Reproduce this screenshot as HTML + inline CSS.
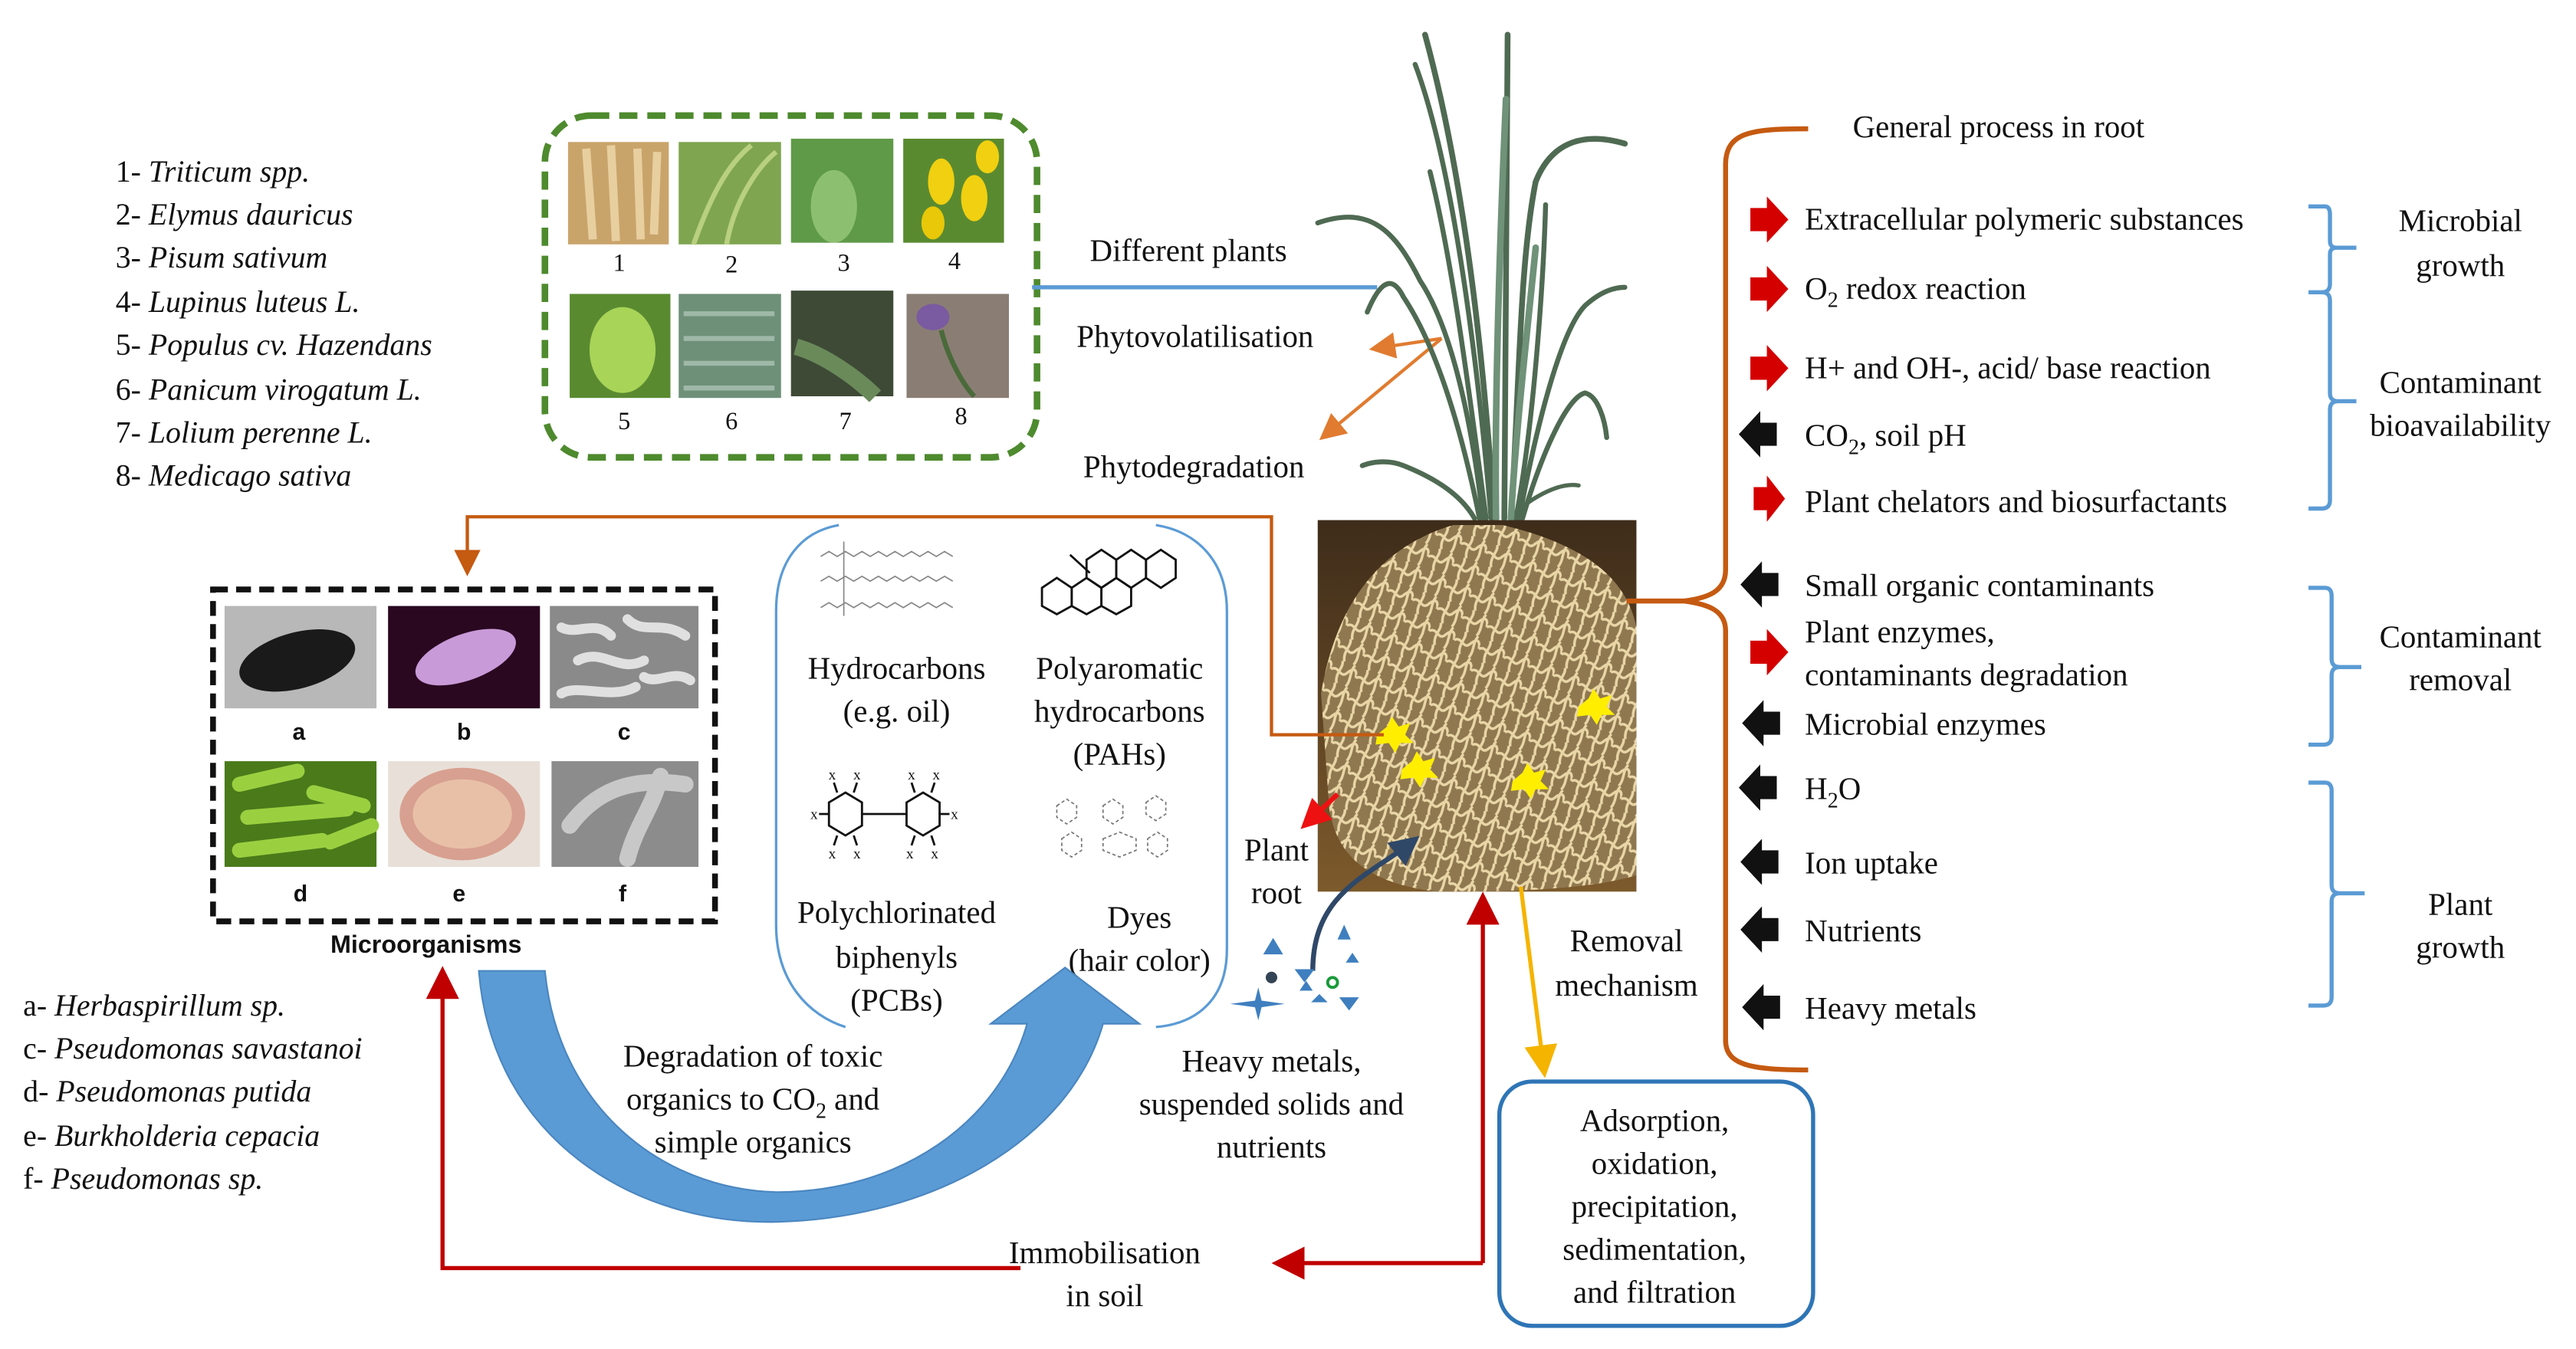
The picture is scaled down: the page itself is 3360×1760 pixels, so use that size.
<!DOCTYPE html>
<html><head><meta charset="utf-8"><style>
html,body{margin:0;padding:0;background:#fff;}
svg{display:block;}
svg text{font-family:"Liberation Serif","Tinos","Nimbus Roman","Nimbus Roman No9 L","FreeSerif","Times New Roman","DejaVu Serif",serif !important;fill:#111;}
svg text.sans{font-family:"Liberation Sans","DejaVu Sans",sans-serif !important;}
.it{font-style:italic;}
</style></head><body>
<svg width="3360" height="1760" viewBox="0 0 1560 817" preserveAspectRatio="none" xmlns="http://www.w3.org/2000/svg" font-family="Liberation Serif, serif">
<defs>
<pattern id="roots" width="16" height="14" patternUnits="userSpaceOnUse" patternTransform="rotate(20)">
<path d="M0,7 C4,3 7,11 10,6 S15,2 16,7 M5,0 C7,4 3,8 6,14 M13,0 C11,5 14,9 12,14" stroke="#e9d6a6" stroke-width="1.6" fill="none"/>
</pattern>
<linearGradient id="soil" x1="0" y1="0" x2="0" y2="1"><stop offset="0" stop-color="#3e2c1a"/><stop offset="1" stop-color="#7d5a2c"/></linearGradient>
<marker id="ao" markerWidth="8" markerHeight="8" refX="6" refY="4" orient="auto"><path d="M0,0 L8,4 L0,8 Z" fill="#e07b30"/></marker>
<marker id="ar" markerWidth="8" markerHeight="8" refX="6" refY="4" orient="auto"><path d="M0,0 L8,4 L0,8 Z" fill="#c00000"/></marker>
<marker id="ab" markerWidth="8" markerHeight="8" refX="6" refY="4" orient="auto"><path d="M0,0 L8,4 L0,8 Z" fill="#c55a11"/></marker>
<marker id="ay" markerWidth="8" markerHeight="8" refX="6" refY="4" orient="auto"><path d="M0,0 L8,4 L0,8 Z" fill="#f5b400"/></marker>
<marker id="ad" markerWidth="6" markerHeight="6" refX="4" refY="3" orient="auto"><path d="M0,0 L6,3 L0,6 Z" fill="#2f4868"/></marker>
<marker id="arr" markerWidth="6" markerHeight="6" refX="4" refY="3" orient="auto"><path d="M0,0 L6,3 L0,6 Z" fill="#ee1111"/></marker>
</defs>

<g font-size="18.5">
<text x="70" y="110">1- <tspan class="it">Triticum spp.</tspan></text>
<text x="70" y="136">2- <tspan class="it">Elymus dauricus</tspan></text>
<text x="70" y="162">3- <tspan class="it">Pisum sativum</tspan></text>
<text x="70" y="189">4- <tspan class="it">Lupinus luteus L.</tspan></text>
<text x="70" y="215">5- <tspan class="it">Populus cv. Hazendans</tspan></text>
<text x="70" y="242">6- <tspan class="it">Panicum virogatum L.</tspan></text>
<text x="70" y="268">7- <tspan class="it">Lolium perenne L.</tspan></text>
<text x="70" y="294">8- <tspan class="it">Medicago sativa</tspan></text>
</g>

<rect x="330" y="70" width="298" height="207" rx="28" fill="none" stroke="#4e8a2e" stroke-width="4" stroke-dasharray="11,6"/>
<rect x="344" y="86" width="61" height="62" fill="#c9a46a"/>
<path d="M355,90 l4,55 M370,88 l3,58 M386,90 l2,55 M398,92 l-2,50" stroke="#e8cfa0" stroke-width="5"/>
<rect x="411" y="86" width="62" height="62" fill="#7fa550"/>
<path d="M420,148 C430,120 440,100 455,88 M440,148 C445,120 460,100 470,92" stroke="#b8d080" stroke-width="3" fill="none"/>
<rect x="479" y="84" width="62" height="63" fill="#5f9a48"/>
<ellipse cx="505" cy="125" rx="14" ry="22" fill="#8cc070"/>
<rect x="547" y="84" width="61" height="63" fill="#5a8a30"/>
<ellipse cx="570" cy="110" rx="8" ry="14" fill="#f0d010"/><ellipse cx="590" cy="120" rx="8" ry="14" fill="#f0d010"/><ellipse cx="565" cy="135" rx="7" ry="10" fill="#e8c808"/><ellipse cx="598" cy="95" rx="7" ry="10" fill="#f0d010"/>
<rect x="345" y="178" width="61" height="63" fill="#5a8a30"/>
<ellipse cx="377" cy="212" rx="20" ry="26" fill="#a8d458"/>
<rect x="411" y="178" width="62" height="63" fill="#6e9078"/>
<path d="M414,190 l55,0 M414,205 l55,0 M414,220 l55,0 M414,235 l55,0" stroke="#9fb8a8" stroke-width="3"/>
<rect x="479" y="176" width="62" height="64" fill="#3e4a36"/>
<path d="M482,210 C500,215 520,230 530,240" stroke="#6a8a5a" stroke-width="10" fill="none"/>
<rect x="549" y="178" width="62" height="63" fill="#8a7e74"/>
<ellipse cx="565" cy="192" rx="10" ry="8" fill="#7a5aa0"/><path d="M570,200 C575,220 585,235 590,240" stroke="#4a6a3a" stroke-width="3" fill="none"/>
<g font-size="15" text-anchor="middle">
<text x="375" y="164">1</text><text x="443" y="165">2</text><text x="511" y="164">3</text><text x="578" y="163">4</text>
<text x="378" y="260">5</text><text x="443" y="260">6</text><text x="512" y="260">7</text><text x="582" y="257">8</text>
</g>

<text x="660" y="158" font-size="19">Different plants</text>
<line x1="625" y1="174" x2="834" y2="174" stroke="#5b9bd5" stroke-width="2.5"/>
<text x="652" y="210" font-size="19">Phytovolatilisation</text>
<text x="656" y="289" font-size="19">Phytodegradation</text>
<line x1="873" y1="205" x2="833" y2="211" stroke="#e07b30" stroke-width="2" marker-end="url(#ao)"/>
<line x1="873" y1="205" x2="802" y2="264" stroke="#e07b30" stroke-width="2" marker-end="url(#ao)"/>

<g fill="none" stroke-linecap="round" stroke="#4f6a52">
<path stroke-width="3.5" d="M911,314 C912,200 912,80 913,21"/>
<path stroke-width="3.5" d="M905,314 C900,240 890,120 863,21"/>
<path stroke-width="3" d="M903,314 C895,220 880,100 857,39"/>
<path stroke-width="3" d="M900,314 C890,240 880,160 866,104"/>
<path stroke-width="3" d="M898,314 C892,260 880,200 860,170 C845,140 830,124 798,135"/>
<path stroke-width="3" d="M896,314 C885,260 870,210 850,180 C845,170 838,165 828,189"/>
<path stroke-width="3" d="M893,314 C885,300 870,290 850,282 C840,278 830,280 825,282"/>
<path stroke-width="3.5" d="M915,314 C920,240 920,160 930,110 C940,85 960,80 984,87"/>
<path stroke-width="3" d="M918,314 C930,250 935,160 936,124"/>
<path stroke-width="3" d="M920,314 C930,260 945,200 960,185 C970,176 978,174 984,174"/>
<path stroke-width="3" d="M922,314 C935,270 950,240 960,238 C968,240 972,255 973,265"/>
<path stroke-width="2.5" d="M918,310 C930,300 945,292 956,294"/>
<path stroke-width="4" stroke="#6f9278" d="M906,314 C905,250 908,150 912,60"/>
<path stroke-width="4" stroke="#6f9278" d="M915,314 C918,260 925,200 930,150"/>
</g>

<rect x="798" y="315" width="193" height="225" fill="url(#soil)"/>
<path d="M880,318 L910,318 C960,330 985,350 991,380 L991,530 C960,540 900,540 870,540 C830,535 810,520 805,490 L800,420 C810,360 840,330 880,318 Z" fill="#8f7750"/>
<path d="M880,318 L910,318 C960,330 985,350 991,380 L991,530 C960,540 900,540 870,540 C830,535 810,520 805,490 L800,420 C810,360 840,330 880,318 Z" fill="url(#roots)"/>
<g fill="#ffee00">
<polygon points="834,445 840,440 843,434 847,440 854,438 851,445 856,450 848,450 845,456 841,450 833,451"/>
<polygon points="849,466 855,461 858,455 862,461 869,459 866,466 871,471 863,471 860,477 856,471 848,472"/>
<polygon points="956,428 962,423 965,417 969,423 976,421 973,428 978,433 970,433 967,439 963,433 955,434"/>
<polygon points="916,473 922,468 925,462 929,468 936,466 933,473 938,478 930,478 927,484 923,478 915,479"/>
</g>

<polyline points="838,445 770,445 770,313 283,313 283,345" fill="none" stroke="#c55a11" stroke-width="2" marker-end="url(#ab)"/>

<path d="M1095,78 C1060,78 1045,80 1045,100 L1045,345 C1045,358 1035,362 1020,364 C1035,366 1045,370 1045,382 L1045,630 C1045,645 1060,648 1095,648" fill="none" stroke="#c55a11" stroke-width="3"/>
<line x1="985" y1="364" x2="1022" y2="364" stroke="#c55a11" stroke-width="3"/>
<text x="1122" y="83" font-size="19">General process in root</text>

<g fill="#d40000">
<polygon points="1060,126 1070,126 1070,119 1083,133 1070,147 1070,140 1060,140"/>
<polygon points="1060,168 1070,168 1070,161 1083,175 1070,189 1070,182 1060,182"/>
<polygon points="1060,216 1070,216 1070,209 1083,223 1070,237 1070,230 1060,230"/>
<polygon points="1062,295 1070,295 1070,288 1081,302 1070,316 1070,309 1062,309"/>
<polygon points="1060,388 1070,388 1070,381 1083,395 1070,409 1070,402 1060,402"/>
</g>
<g fill="#111">
<polygon points="1076,256 1066,256 1066,249 1053,263 1066,277 1066,270 1076,270"/>
<polygon points="1077,347 1067,347 1067,340 1054,354 1067,368 1067,361 1077,361"/>
<polygon points="1078,431 1068,431 1068,424 1055,438 1068,452 1068,445 1078,445"/>
<polygon points="1076,470 1066,470 1066,463 1053,477 1066,491 1066,484 1076,484"/>
<polygon points="1077,515 1067,515 1067,508 1054,522 1067,536 1067,529 1077,529"/>
<polygon points="1077,556 1067,556 1067,549 1054,563 1067,577 1067,570 1077,570"/>
<polygon points="1078,603 1068,603 1068,596 1055,610 1068,624 1068,617 1078,617"/>
</g>
<g font-size="19">
<text x="1093" y="139">Extracellular polymeric substances</text>
<text x="1093" y="181">O<tspan font-size="13" dy="5">2</tspan><tspan dy="-5"> redox reaction</tspan></text>
<text x="1093" y="229">H+ and OH-, acid/ base reaction</text>
<text x="1093" y="270">CO<tspan font-size="13" dy="5">2</tspan><tspan dy="-5">, soil pH</tspan></text>
<text x="1093" y="310">Plant chelators and biosurfactants</text>
<text x="1093" y="361">Small organic contaminants</text>
<text x="1093" y="389">Plant enzymes,</text>
<text x="1093" y="415">contaminants degradation</text>
<text x="1093" y="445">Microbial enzymes</text>
<text x="1093" y="484">H<tspan font-size="13" dy="5">2</tspan><tspan dy="-5">O</tspan></text>
<text x="1093" y="529">Ion uptake</text>
<text x="1093" y="570">Nutrients</text>
<text x="1093" y="617">Heavy metals</text>
</g>

<g fill="none" stroke="#5b9bd5" stroke-width="2.5">
<path d="M1398,125 L1408,125 Q1411,125 1411,130 L1411,146 Q1411,150 1415,150 L1427,150 M1415,150 Q1411,150 1411,154 L1411,172 Q1411,177 1406,177 L1398,177 M1406,177 Q1411,177 1411,182 L1411,238 Q1411,243 1416,243 L1427,243 M1416,243 Q1411,243 1411,248 L1411,303 Q1411,308 1406,308 L1398,308"/>
<path d="M1398,356 L1408,356 Q1412,356 1412,361 L1412,399 Q1412,404 1417,404 L1430,404 M1417,404 Q1412,404 1412,409 L1412,446 Q1412,451 1407,451 L1398,451"/>
<path d="M1398,474 L1408,474 Q1412,474 1412,479 L1412,536 Q1412,541 1417,541 L1432,541 M1417,541 Q1412,541 1412,546 L1412,604 Q1412,609 1407,609 L1398,609"/>
</g>
<g font-size="19" text-anchor="middle">
<text x="1490" y="140">Microbial</text><text x="1490" y="167">growth</text>
<text x="1490" y="238">Contaminant</text><text x="1490" y="264">bioavailability</text>
<text x="1490" y="392">Contaminant</text><text x="1490" y="418">removal</text>
<text x="1490" y="554">Plant</text><text x="1490" y="580">growth</text>
</g>

<rect x="129" y="357" width="304" height="201" fill="none" stroke="#111" stroke-width="3.5" stroke-dasharray="9,5"/>
<rect x="136" y="367" width="92" height="62" fill="#b8b8b8"/>
<ellipse cx="180" cy="400" rx="36" ry="17" transform="rotate(-15 180 400)" fill="#1a1a1a"/>
<rect x="235" y="367" width="92" height="62" fill="#2a0820"/>
<ellipse cx="282" cy="398" rx="32" ry="14" transform="rotate(-20 282 398)" fill="#c89ad8"/>
<rect x="333" y="367" width="90" height="62" fill="#8a8a8a"/>
<path d="M340,380 c10,5 20,-5 30,5 M350,400 c15,-8 25,8 40,0 M340,420 c10,-6 30,4 45,-4 M380,375 c10,10 20,0 35,10 M390,410 c8,5 18,-5 28,2" stroke="#e0e0e0" stroke-width="6" fill="none" stroke-linecap="round"/>
<rect x="136" y="461" width="92" height="64" fill="#4a7a1a"/>
<path d="M145,475 l35,-8 M150,495 l60,-5 M145,515 l50,-6 M190,480 l30,8 M200,510 l25,-10" stroke="#9ad040" stroke-width="9" stroke-linecap="round"/>
<rect x="235" y="461" width="92" height="64" fill="#e8e0d8"/>
<ellipse cx="280" cy="493" rx="38" ry="28" fill="#d8a090"/>
<ellipse cx="280" cy="493" rx="30" ry="21" fill="#e8c0a8"/>
<rect x="334" y="461" width="89" height="64" fill="#8c8c8c"/>
<path d="M345,500 C360,480 380,470 415,475 M380,520 C385,500 395,490 400,470" stroke="#c8c8c8" stroke-width="10" fill="none" stroke-linecap="round"/>
<g font-size="14" font-weight="bold" text-anchor="middle">
<text class="sans" x="181" y="448">a</text><text class="sans" x="281" y="448">b</text><text class="sans" x="378" y="448">c</text>
<text class="sans" x="182" y="546">d</text><text class="sans" x="278" y="546">e</text><text class="sans" x="377" y="546">f</text>
</g>
<text class="sans" x="258" y="577" font-size="15" font-weight="bold" text-anchor="middle">Microorganisms</text>

<g font-size="18.5">
<text x="14" y="615">a- <tspan class="it">Herbaspirillum sp.</tspan></text>
<text x="14" y="641">c- <tspan class="it">Pseudomonas savastanoi</tspan></text>
<text x="14" y="667">d- <tspan class="it">Pseudomonas putida</tspan></text>
<text x="14" y="694">e- <tspan class="it">Burkholderia cepacia</tspan></text>
<text x="14" y="720">f- <tspan class="it">Pseudomonas sp.</tspan></text>
</g>

<path d="M508,318 C485,322 470,340 470,370 L470,560 C470,595 490,615 512,622" fill="none" stroke="#5b9bd5" stroke-width="1.5"/>
<path d="M700,318 C725,322 743,340 743,370 L743,575 C743,605 725,620 700,622" fill="none" stroke="#5b9bd5" stroke-width="1.5"/>
<g stroke="#888" stroke-width="0.8" fill="none">
<path d="M497,337 l5,-3 5,3 5,-3 5,3 5,-3 5,3 5,-3 5,3 5,-3 5,3 5,-3 5,3 5,-3 5,3 5,-3 5,3"/>
<path d="M497,352 l5,-3 5,3 5,-3 5,3 5,-3 5,3 5,-3 5,3 5,-3 5,3 5,-3 5,3 5,-3 5,3 5,-3 5,3"/>
<path d="M497,368 l5,-3 5,3 5,-3 5,3 5,-3 5,3 5,-3 5,3 5,-3 5,3 5,-3 5,3 5,-3 5,3 5,-3 5,3"/>
<path d="M511,328 v45"/>
</g>
<g stroke="#111" stroke-width="1.3" fill="none">
<polygon points="631,356 640,350 649,356 649,367 640,372 631,367"/>
<polygon points="649,356 658,350 667,356 667,367 658,372 649,367"/>
<polygon points="667,356 676,350 685,356 685,367 676,372 667,367"/>
<polygon points="658,339 667,333 676,339 676,350 667,356 658,350"/>
<polygon points="676,339 685,333 694,339 694,350 685,356 676,350"/>
<polygon points="694,339 703,333 712,339 712,350 703,356 694,350"/>
<line x1="648" y1="336" x2="660" y2="347"/>
</g>
<g stroke="#111" stroke-width="1.3" fill="none">
<polygon points="502,486 512,480 522,486 522,500 512,506 502,500"/>
<polygon points="549,486 559,480 569,486 569,500 559,506 549,500"/>
<line x1="522" y1="493" x2="549" y2="493"/>
<path d="M507,480 l-2,-6 M517,480 l2,-6 M554,480 l-2,-6 M564,480 l2,-6 M507,506 l-2,6 M517,506 l2,6 M554,506 l-2,6 M564,506 l2,6 M502,493 l-6,0 M569,493 l6,0"/>
</g>
<g font-size="9" text-anchor="middle">
<text x="504" y="472">x</text><text x="519" y="472">x</text><text x="552" y="472">x</text><text x="567" y="472">x</text>
<text x="504" y="520">x</text><text x="519" y="520">x</text><text x="551" y="520">x</text><text x="566" y="520">x</text>
<text x="493" y="496">x</text><text x="578" y="496">x</text>
</g>
<g stroke="#777" stroke-width="0.8" fill="none" stroke-dasharray="2,1.5">
<polygon points="640,488 646,484 652,488 652,495 646,499 640,495"/>
<polygon points="668,488 674,484 680,488 680,495 674,499 668,495"/>
<polygon points="694,486 700,482 706,486 706,493 700,497 694,493"/>
<polygon points="643,508 649,504 655,508 655,515 649,519 643,515"/>
<polygon points="668,508 678,504 688,508 688,515 678,519 668,515"/>
<polygon points="695,508 701,504 707,508 707,515 701,519 695,515"/>
</g>
<g font-size="19" text-anchor="middle">
<text x="543" y="411">Hydrocarbons</text><text x="543" y="437">(e.g. oil)</text>
<text x="678" y="411">Polyaromatic</text><text x="678" y="437">hydrocarbons</text><text x="678" y="463">(PAHs)</text>
<text x="543" y="559">Polychlorinated</text><text x="543" y="586">biphenyls</text><text x="543" y="612">(PCBs)</text>
<text x="690" y="562">Dyes</text><text x="690" y="588">(hair color)</text>
</g>

<path d="M290,588 C298,690 385,742 470,740 C565,738 648,690 668,620 L690,620 L645,586 L600,620 L622,620 C605,680 545,722 470,722 C400,720 338,670 330,588 Z" fill="#5b9bd5" stroke="#4a86c0" stroke-width="1"/>
<g font-size="19" text-anchor="middle">
<text x="456" y="646">Degradation of toxic</text>
<text x="456" y="672">organics to CO<tspan font-size="13" dy="5">2</tspan><tspan dy="-5"> and</tspan></text>
<text x="456" y="698">simple organics</text>
</g>

<line x1="810" y1="481" x2="792" y2="498" stroke="#ee1111" stroke-width="3" marker-end="url(#arr)"/>
<text x="773" y="521" font-size="19" text-anchor="middle">Plant</text>
<text x="773" y="547" font-size="19" text-anchor="middle">root</text>
<path d="M795,588 C795,540 830,530 855,510" fill="none" stroke="#2f4868" stroke-width="3" marker-end="url(#ad)"/>

<g fill="#3f7fbf">
<polygon points="765,578 771,568 777,578"/>
<polygon points="787,600 791,594 795,600"/>
<polygon points="810,569 814,560 818,569"/>
<polygon points="815,583 819,577 823,583"/>
<polygon points="784,587 790,595 796,587"/>
<polygon points="811,604 817,612 823,604"/>
<polygon points="794,607 799,602 804,607"/>
<circle cx="770" cy="592" r="3.5" fill="#345"/>
<path d="M745,608 L760,606 L762,598 L764,606 L778,608 L764,610 L762,618 L760,610 Z"/>
</g>
<circle cx="807" cy="595" r="3" fill="none" stroke="#1a9a3a" stroke-width="1.8"/>
<g font-size="19" text-anchor="middle">
<text x="770" y="649">Heavy metals,</text>
<text x="770" y="675">suspended solids and</text>
<text x="770" y="701">nutrients</text>
</g>

<line x1="921" y1="537" x2="935" y2="648" stroke="#f5b400" stroke-width="2.5" marker-end="url(#ay)"/>
<text x="985" y="576" font-size="19" text-anchor="middle">Removal</text>
<text x="985" y="603" font-size="19" text-anchor="middle">mechanism</text>
<rect x="908" y="655" width="190" height="148" rx="20" fill="none" stroke="#2e75b6" stroke-width="2.5"/>
<g font-size="19" text-anchor="middle">
<text x="1002" y="685">Adsorption,</text>
<text x="1002" y="711">oxidation,</text>
<text x="1002" y="737">precipitation,</text>
<text x="1002" y="763">sedimentation,</text>
<text x="1002" y="789">and filtration</text>
</g>

<polyline points="898,765 898,545" fill="none" stroke="#c00000" stroke-width="2.5" marker-end="url(#ar)"/>
<polyline points="898,765 775,765" fill="none" stroke="#c00000" stroke-width="2.5" marker-end="url(#ar)"/>
<polyline points="618,768 268,768 268,590" fill="none" stroke="#c00000" stroke-width="2.5" marker-end="url(#ar)"/>
<text x="669" y="765" font-size="19" text-anchor="middle">Immobilisation</text>
<text x="669" y="791" font-size="19" text-anchor="middle">in soil</text>
</svg>
</body></html>
